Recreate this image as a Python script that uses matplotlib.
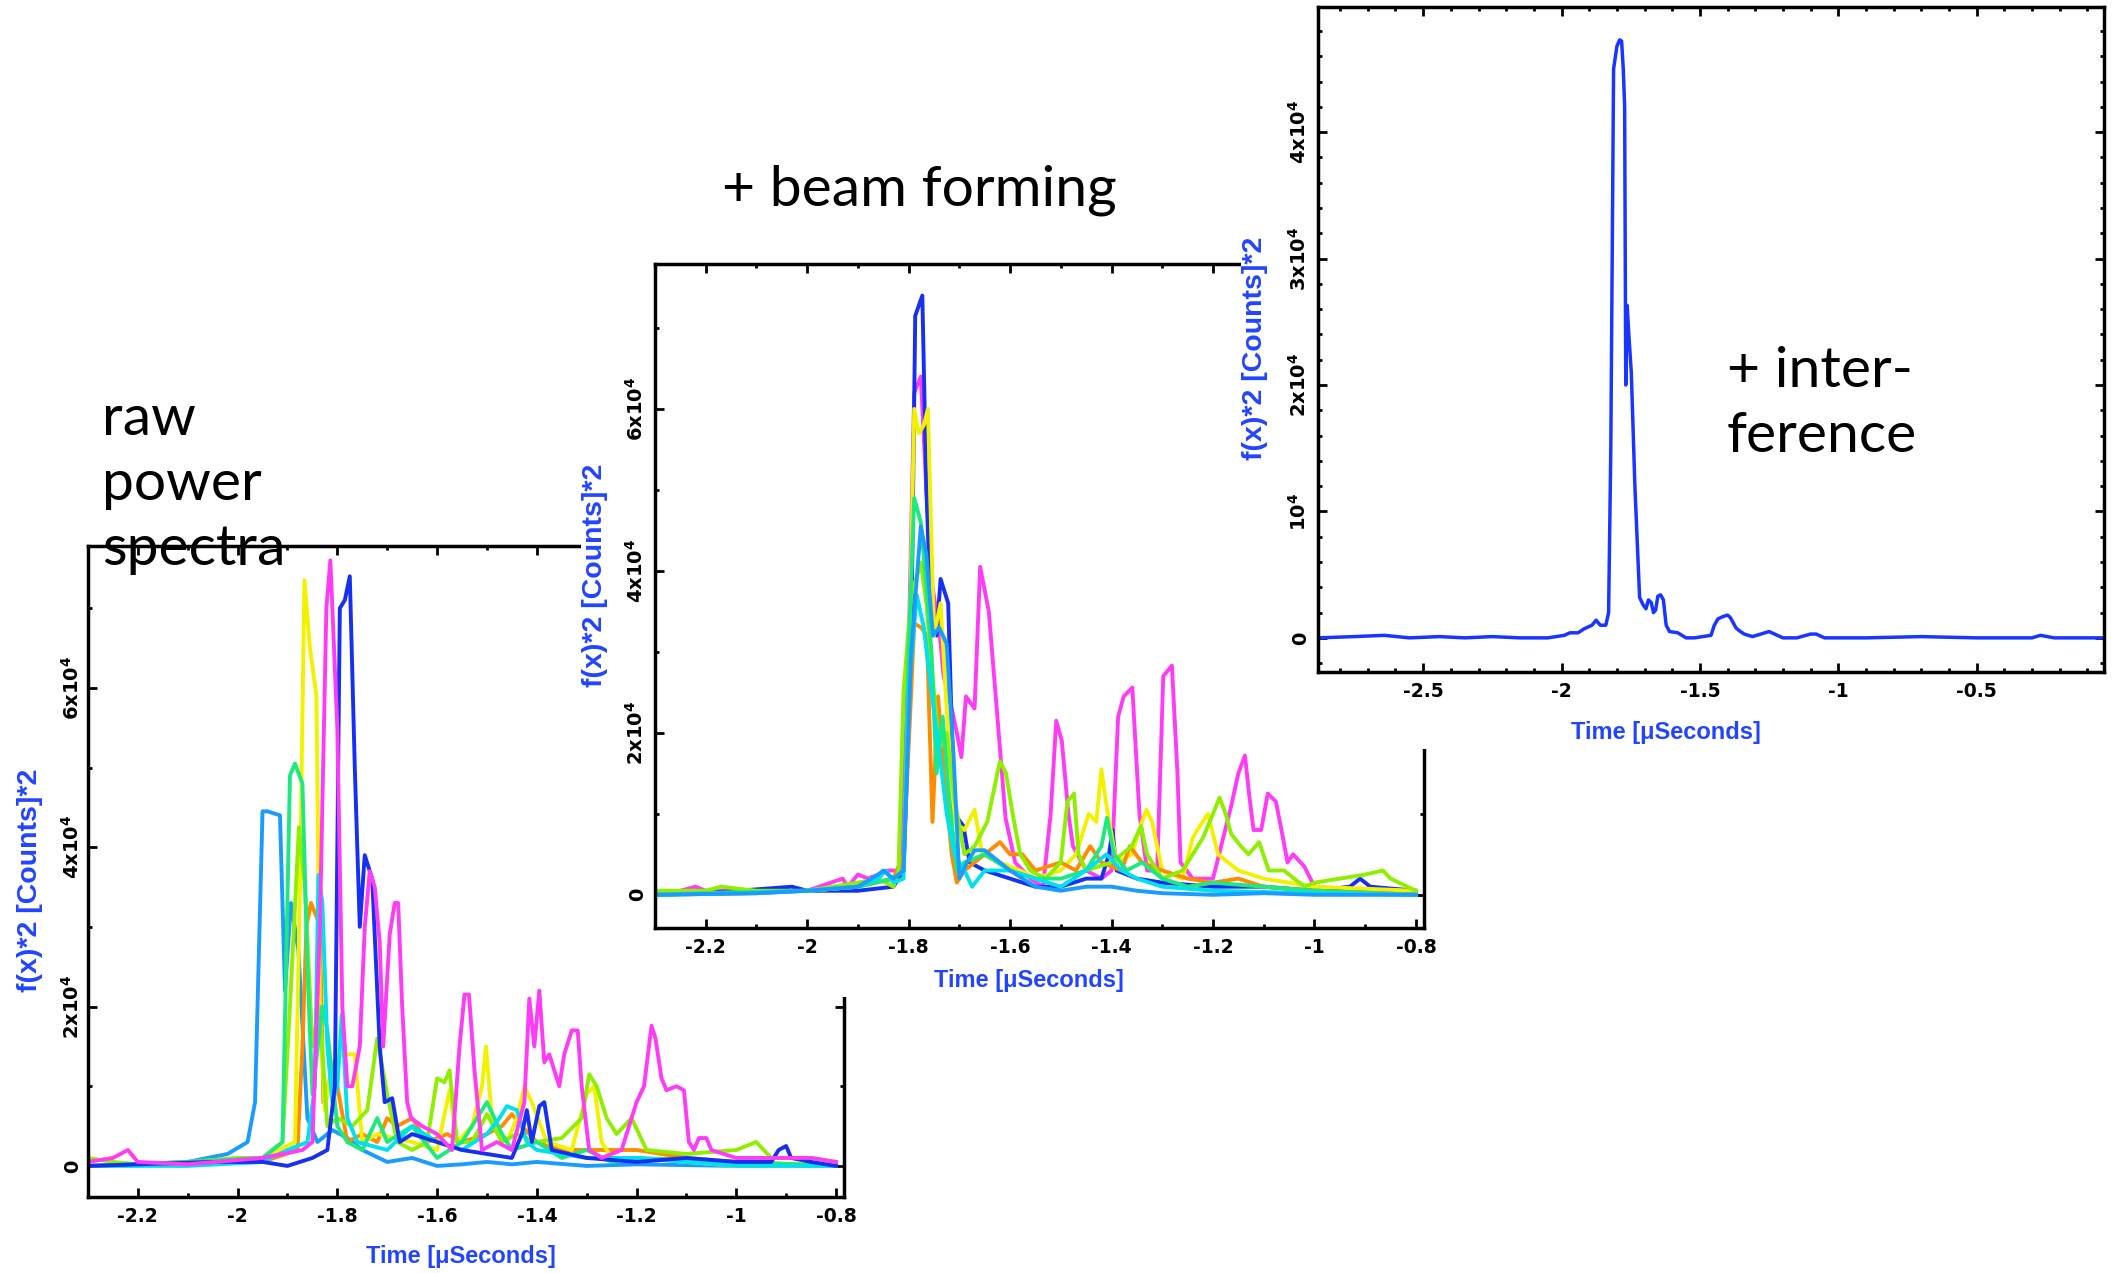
import numpy as np
import matplotlib
matplotlib.use("Agg")
import matplotlib.pyplot as plt
from matplotlib.ticker import FixedLocator, FixedFormatter, MultipleLocator

W, H = 2120, 1273

# ---- raw power spectra (time in microseconds, power in units of 1e4 counts^2) ----
raw_azure_t = [-2.3, -2.2, -2.1, -2.02, -1.98, -1.965, -1.95, -1.94, -1.915, -1.905, -1.893, -1.878, -1.86, -1.84,
               -1.81, -1.78, -1.75, -1.70, -1.65, -1.6, -1.55, -1.5, -1.45, -1.4, -1.3, -1.2, -1.0, -0.8]
raw_azure_y = [0.0, 0.02, 0.05, 0.15, 0.3, 0.8, 4.45, 4.45, 4.4, 2.2, 3.3, 2.7, 0.6, 0.3,
               0.45, 0.35, 0.2, 0.05, 0.1, 0.0, 0.02, 0.05, 0.02, 0.05, 0.0, 0.02, 0.0, 0.0]

raw_green_t = [-2.3, -2.1, -1.95, -1.91, -1.895, -1.885, -1.87, -1.86, -1.85, -1.83, -1.82, -1.80, -1.78, -1.75,
               -1.72, -1.70, -1.65, -1.6, -1.55, -1.5, -1.47, -1.45, -1.4, -1.35, -1.3, -1.25, -1.2, -1.0, -0.8]
raw_green_y = [0.0, 0.05, 0.1, 0.3, 4.9, 5.05, 4.8, 2.5, 0.9, 2.0, 1.7, 0.5, 0.3, 0.2,
               0.6, 0.3, 0.5, 0.1, 0.3, 0.8, 0.4, 0.2, 0.3, 0.1, 0.2, 0.05, 0.1, 0.05, 0.0]

raw_yellow_t = [-2.3, -2.1, -1.95, -1.885, -1.875, -1.866, -1.855, -1.842, -1.835, -1.825, -1.81, -1.79,
                -1.765, -1.75, -1.72, -1.65, -1.6, -1.575, -1.56, -1.53, -1.51, -1.502, -1.49, -1.46,
                -1.44, -1.425, -1.41, -1.38, -1.33, -1.3, -1.285, -1.27, -1.25, -1.2, -1.0, -0.8]
raw_yellow_y = [0.0, 0.02, 0.1, 0.3, 3.5, 7.35, 6.5, 5.9, 2.0, 0.7, 1.3, 1.4,
                1.4, 0.3, 0.4, 0.3, 0.2, 0.95, 0.3, 0.5, 1.0, 1.5, 0.6, 0.3,
                0.6, 1.0, 0.8, 0.3, 0.2, 0.9, 1.0, 0.3, 0.1, 0.1, 0.0, 0.0]

raw_lime_t = [-2.3, -2.25, -2.2, -2.1, -2.0, -1.95, -1.91, -1.895, -1.877, -1.865, -1.85, -1.836, -1.82, -1.80,
              -1.77, -1.74, -1.72, -1.70, -1.68, -1.65, -1.62, -1.60, -1.585, -1.575, -1.56, -1.53, -1.50,
              -1.47, -1.44, -1.40, -1.35, -1.31, -1.295, -1.28, -1.26, -1.24, -1.21, -1.18, -1.1, -1.0,
              -0.96, -0.93, -0.85, -0.8]
raw_lime_y = [0.1, 0.05, 0.02, 0.05, 0.1, 0.1, 0.3, 2.0, 4.25, 3.5, 1.5, 2.0, 0.5, 0.6,
              0.5, 0.7, 1.6, 0.9, 0.3, 0.2, 0.3, 1.1, 1.05, 1.2, 0.3, 0.3, 0.65,
              0.3, 0.4, 0.3, 0.35, 0.6, 1.15, 1.0, 0.6, 0.4, 0.6, 0.2, 0.15, 0.2,
              0.3, 0.1, 0.1, 0.05]

raw_orange_t = [-2.3, -2.1, -1.95, -1.88, -1.87, -1.862, -1.853, -1.84, -1.835, -1.828, -1.81, -1.80, -1.78,
                -1.75, -1.72, -1.70, -1.68, -1.65, -1.62, -1.58, -1.55, -1.5, -1.47, -1.45, -1.43, -1.4,
                -1.35, -1.3, -1.2, -1.1, -1.0, -0.8]
raw_orange_y = [0.0, 0.02, 0.05, 0.2, 1.5, 3.0, 3.3, 3.1, 3.0, 0.8, 1.2, 1.0, 0.3,
                0.4, 0.3, 0.6, 0.5, 0.6, 0.3, 0.4, 0.3, 0.4, 0.5, 0.65, 0.5, 0.3,
                0.2, 0.2, 0.2, 0.1, 0.05, 0.0]

raw_cyan_t = [-2.3, -2.1, -1.95, -1.90, -1.86, -1.845, -1.838, -1.83, -1.82, -1.81, -1.80, -1.791, -1.78, -1.76,
              -1.70, -1.65, -1.60, -1.55, -1.50, -1.475, -1.46, -1.44, -1.42, -1.40, -1.3, -1.2, -1.0, -0.8]
raw_cyan_y = [0.0, 0.0, 0.05, 0.2, 0.3, 1.0, 3.65, 3.3, 1.5, 0.8, 1.0, 1.9, 0.6, 0.3,
              0.2, 0.5, 0.3, 0.2, 0.4, 0.6, 0.75, 0.7, 0.3, 0.2, 0.1, 0.1, 0.0, 0.0]

raw_blue_t = [-2.3, -2.2, -2.05, -1.95, -1.90, -1.85, -1.82, -1.805, -1.795, -1.785, -1.775, -1.765, -1.755,
              -1.745, -1.73, -1.715, -1.705, -1.69, -1.675, -1.65, -1.6, -1.55, -1.5, -1.45, -1.43, -1.42,
              -1.41, -1.395, -1.385, -1.37, -1.3, -1.2, -1.1, -1.0, -0.93, -0.915, -0.9, -0.89, -0.85, -0.8]
raw_blue_y = [0.0, 0.02, 0.05, 0.05, 0.0, 0.1, 0.2, 1.0, 7.0, 7.1, 7.4, 5.0, 3.0,
              3.9, 3.6, 1.5, 0.8, 0.85, 0.3, 0.4, 0.3, 0.2, 0.15, 0.1, 0.4, 0.7,
              0.3, 0.75, 0.8, 0.2, 0.1, 0.05, 0.1, 0.05, 0.05, 0.2, 0.25, 0.1, 0.05, 0.0]

raw_magenta_t = [-2.3, -2.25, -2.22, -2.2, -2.1, -1.95, -1.87, -1.85, -1.835, -1.822, -1.814, -1.80, -1.79,
                 -1.78, -1.77, -1.755, -1.745, -1.735, -1.725, -1.715, -1.708, -1.695, -1.685, -1.678, -1.67,
                 -1.66, -1.652, -1.63, -1.60, -1.57, -1.555, -1.545, -1.536, -1.525, -1.51, -1.48, -1.45,
                 -1.425, -1.415, -1.405, -1.395, -1.385, -1.375, -1.365, -1.355, -1.345, -1.33, -1.318,
                 -1.31, -1.295, -1.27, -1.23, -1.20, -1.185, -1.17, -1.162, -1.15, -1.14, -1.12, -1.105,
                 -1.095, -1.085, -1.075, -1.06, -1.05, -1.0, -0.9, -0.85, -0.8]
raw_magenta_y = [0.05, 0.1, 0.2, 0.05, 0.02, 0.1, 0.2, 0.3, 3.0, 7.0, 7.6, 5.5, 2.0,
                 1.0, 1.0, 1.5, 3.0, 3.7, 3.5, 2.8, 1.5, 2.9, 3.3, 3.3, 2.0,
                 0.8, 0.6, 0.5, 0.4, 0.2, 1.5, 2.15, 2.15, 1.2, 0.2, 0.3, 0.2,
                 0.8, 2.1, 1.5, 2.2, 1.3, 1.4, 1.2, 1.0, 1.4, 1.7, 1.7,
                 1.0, 0.2, 0.1, 0.2, 0.8, 1.0, 1.76, 1.6, 1.1, 0.95, 1.0, 0.95,
                 0.3, 0.2, 0.35, 0.35, 0.2, 0.1, 0.1, 0.1, 0.05]

# ---- after beam forming ----
beam_blue_t = [-2.3, -2.2, -2.03, -2.0, -1.9, -1.83, -1.81, -1.795, -1.787, -1.773, -1.765, -1.755, -1.745,
               -1.737, -1.722, -1.71, -1.692, -1.68, -1.65, -1.6, -1.55, -1.5, -1.45, -1.42, -1.405, -1.398,
               -1.39, -1.35, -1.3, -1.2, -1.1, -1.0, -0.93, -0.91, -0.89, -0.8]
beam_blue_y = [0.0, 0.02, 0.1, 0.05, 0.05, 0.1, 0.3, 3.0, 7.15, 7.4, 5.0, 3.3, 3.2,
               3.9, 3.6, 1.0, 0.85, 0.4, 0.3, 0.2, 0.1, 0.1, 0.2, 0.2, 0.5, 0.8,
               0.3, 0.2, 0.15, 0.1, 0.1, 0.05, 0.1, 0.2, 0.1, 0.05]

beam_magenta_t = [-2.3, -2.25, -2.22, -2.2, -2.1, -2.0, -1.93, -1.92, -1.9, -1.88, -1.84, -1.815, -1.80,
                  -1.789, -1.776, -1.765, -1.753, -1.74, -1.731, -1.715, -1.705, -1.696, -1.687, -1.67,
                  -1.659, -1.642, -1.625, -1.609, -1.59, -1.56, -1.535, -1.52, -1.509, -1.498, -1.485,
                  -1.476, -1.45, -1.42, -1.40, -1.387, -1.376, -1.359, -1.345, -1.33, -1.31, -1.298,
                  -1.281, -1.27, -1.264, -1.24, -1.2, -1.18, -1.164, -1.15, -1.137, -1.128, -1.12,
                  -1.105, -1.092, -1.076, -1.065, -1.053, -1.042, -1.02, -1.0, -0.9, -0.8]
beam_magenta_y = [0.0, 0.05, 0.1, 0.05, 0.05, 0.05, 0.2, 0.1, 0.25, 0.2, 0.3, 0.3, 3.0,
                  6.2, 6.4, 5.0, 3.8, 3.3, 2.7, 2.3, 2.0, 1.7, 2.45, 2.3,
                  4.05, 3.5, 2.2, 0.95, 0.4, 0.2, 0.1, 1.0, 2.15, 1.9, 1.0,
                  0.6, 0.3, 0.2, 0.3, 2.2, 2.45, 2.56, 1.0, 0.3, 0.3, 2.7,
                  2.83, 1.5, 0.4, 0.2, 0.2, 0.7, 1.1, 1.5, 1.72, 1.2, 0.8,
                  0.8, 1.25, 1.15, 0.8, 0.4, 0.5, 0.35, 0.1, 0.05, 0.05]

beam_yellow_t = [-2.3, -2.2, -2.0, -1.9, -1.83, -1.81, -1.80, -1.789, -1.78, -1.77, -1.762, -1.75, -1.737,
                 -1.726, -1.709, -1.69, -1.67, -1.655, -1.62, -1.58, -1.55, -1.5, -1.47, -1.445, -1.43,
                 -1.42, -1.41, -1.39, -1.36, -1.34, -1.331, -1.32, -1.30, -1.26, -1.24, -1.231, -1.21,
                 -1.19, -1.15, -1.1, -1.0, -0.8]
beam_yellow_y = [0.0, 0.02, 0.05, 0.1, 0.2, 0.3, 2.5, 6.0, 5.7, 5.8, 6.0, 3.2, 3.6,
                 2.4, 0.9, 0.8, 1.05, 0.5, 0.4, 0.3, 0.2, 0.3, 0.5, 1.0, 0.9,
                 1.55, 1.1, 0.4, 0.5, 0.9, 1.05, 0.9, 0.3, 0.2, 0.7, 0.8, 1.0,
                 0.5, 0.3, 0.2, 0.1, 0.05]

beam_green_t = [-2.3, -2.2, -2.0, -1.9, -1.83, -1.81, -1.80, -1.789, -1.776, -1.765, -1.755, -1.745, -1.733,
                -1.72, -1.705, -1.69, -1.65, -1.6, -1.55, -1.5, -1.45, -1.42, -1.409, -1.395, -1.37, -1.34,
                -1.3, -1.25, -1.2, -1.1, -1.0, -0.8]
beam_green_y = [0.0, 0.02, 0.05, 0.1, 0.2, 0.3, 3.0, 4.9, 4.6, 3.8, 3.0, 1.5, 2.2,
                1.2, 0.3, 0.4, 0.5, 0.3, 0.2, 0.2, 0.3, 0.6, 0.95, 0.5, 0.3, 0.4,
                0.2, 0.1, 0.15, 0.1, 0.05, 0.0]

beam_lime_t = [-2.3, -2.2, -2.17, -2.1, -2.0, -1.9, -1.86, -1.83, -1.82, -1.81, -1.795, -1.776, -1.765,
               -1.75, -1.74, -1.725, -1.71, -1.69, -1.67, -1.645, -1.62, -1.608, -1.595, -1.58, -1.56,
               -1.53, -1.50, -1.487, -1.474, -1.465, -1.45, -1.40, -1.36, -1.342, -1.33, -1.30, -1.26,
               -1.22, -1.20, -1.187, -1.175, -1.164, -1.145, -1.13, -1.109, -1.09, -1.06, -1.02, -1.0,
               -0.95, -0.9, -0.865, -0.85, -0.8]
beam_lime_y = [0.05, 0.05, 0.1, 0.05, 0.05, 0.15, 0.2, 0.1, 0.3, 2.5, 3.7, 4.1, 3.6,
               2.5, 1.8, 2.0, 1.2, 0.5, 0.6, 0.9, 1.65, 1.5, 1.0, 0.5, 0.3,
               0.2, 0.4, 1.15, 1.25, 0.5, 0.3, 0.4, 0.6, 0.85, 0.5, 0.2, 0.3,
               0.7, 1.0, 1.2, 1.0, 0.75, 0.6, 0.5, 0.65, 0.3, 0.3, 0.1, 0.15,
               0.2, 0.25, 0.3, 0.2, 0.05]

beam_orange_t = [-2.3, -2.1, -2.0, -1.9, -1.83, -1.81, -1.795, -1.789, -1.775, -1.764, -1.753, -1.742, -1.73,
                 -1.715, -1.705, -1.69, -1.65, -1.62, -1.6, -1.576, -1.55, -1.5, -1.47, -1.442, -1.42,
                 -1.38, -1.364, -1.34, -1.3, -1.25, -1.2, -1.15, -1.1, -1.0, -0.8]
beam_orange_y = [0.0, 0.02, 0.05, 0.1, 0.2, 0.5, 2.5, 3.35, 3.3, 3.2, 0.9, 2.45, 1.5,
                 0.5, 0.15, 0.3, 0.5, 0.65, 0.5, 0.5, 0.3, 0.4, 0.3, 0.6, 0.4,
                 0.3, 0.6, 0.4, 0.3, 0.2, 0.15, 0.2, 0.1, 0.05, 0.0]

beam_cyan_t = [-2.3, -2.1, -2.0, -1.9, -1.86, -1.845, -1.83, -1.81, -1.80, -1.784, -1.77, -1.755, -1.74,
               -1.725, -1.71, -1.69, -1.675, -1.65, -1.6, -1.55, -1.5, -1.45, -1.41, -1.38, -1.35, -1.3,
               -1.2, -1.0, -0.8]
beam_cyan_y = [0.0, 0.02, 0.05, 0.1, 0.2, 0.3, 0.15, 0.2, 2.5, 3.7, 3.3, 2.5, 1.8,
               1.0, 0.5, 0.3, 0.1, 0.3, 0.3, 0.2, 0.1, 0.3, 0.5, 0.3, 0.2, 0.1,
               0.05, 0.02, 0.0]

beam_azure_t = [-2.3, -2.1, -2.0, -1.9, -1.86, -1.85, -1.83, -1.81, -1.795, -1.776, -1.765, -1.752, -1.74,
                -1.725, -1.712, -1.70, -1.685, -1.67, -1.65, -1.62, -1.6, -1.55, -1.5, -1.45, -1.4, -1.35,
                -1.3, -1.2, -1.1, -1.0, -0.8]
beam_azure_y = [0.0, 0.02, 0.05, 0.1, 0.25, 0.3, 0.2, 0.3, 3.0, 4.55, 4.2, 3.2, 3.3,
                3.1, 1.8, 0.2, 0.4, 0.55, 0.55, 0.4, 0.3, 0.1, 0.05, 0.1, 0.1, 0.05,
                0.02, 0.0, 0.02, 0.0, 0.0]

# ---- after interference ----
intf_t = [-2.88, -2.75, -2.64, -2.55, -2.44, -2.35, -2.25, -2.15, -2.05, -1.99, -1.97, -1.94, -1.92, -1.89,
          -1.875, -1.86, -1.84, -1.83, -1.822, -1.812, -1.80, -1.79, -1.783, -1.777, -1.772, -1.768, -1.763,
          -1.757, -1.748, -1.735, -1.718, -1.705, -1.695, -1.686, -1.676, -1.668, -1.66, -1.652, -1.642,
          -1.632, -1.622, -1.61, -1.58, -1.55, -1.52, -1.46, -1.448, -1.435, -1.415, -1.40, -1.39, -1.38,
          -1.37, -1.36, -1.34, -1.31, -1.28, -1.25, -1.23, -1.2, -1.15, -1.1, -1.08, -1.05, -0.9, -0.7,
          -0.5, -0.3, -0.27, -0.22, -0.04]
intf_y = [0.0, 0.01, 0.02, 0.0, 0.01, 0.0, 0.01, 0.0, 0.0, 0.02, 0.04, 0.04, 0.07, 0.1,
          0.14, 0.1, 0.1, 0.2, 1.5, 4.5, 4.68, 4.73, 4.72, 4.5, 4.2, 2.0, 2.63,
          2.4, 2.1, 1.2, 0.32, 0.26, 0.23, 0.3, 0.28, 0.2, 0.22, 0.33, 0.34,
          0.3, 0.1, 0.05, 0.04, 0.0, 0.0, 0.02, 0.1, 0.15, 0.17, 0.18, 0.16, 0.12,
          0.08, 0.06, 0.03, 0.01, 0.03, 0.05, 0.03, 0.0, 0.0, 0.03, 0.03, 0.0, 0.0, 0.01,
          0.0, 0.0, 0.02, 0.0, 0.0]

c_blue = '#1530f0'
c_magenta = '#ff3cf5'
c_yellow = '#f2f200'
c_lime = '#90ee00'
c_green = '#1ee880'
c_cyan = '#00e0ee'
c_azure = '#1a9cff'
c_orange = '#ff8c00'
label_blue = '#2244ff'

raw_traces = [(raw_azure_t, raw_azure_y, c_azure), (raw_orange_t, raw_orange_y, c_orange),
              (raw_yellow_t, raw_yellow_y, c_yellow), (raw_lime_t, raw_lime_y, c_lime),
              (raw_green_t, raw_green_y, c_green), (raw_cyan_t, raw_cyan_y, c_cyan),
              (raw_blue_t, raw_blue_y, c_blue), (raw_magenta_t, raw_magenta_y, c_magenta)]
beam_traces = [(beam_magenta_t, beam_magenta_y, c_magenta), (beam_blue_t, beam_blue_y, c_blue),
               (beam_yellow_t, beam_yellow_y, c_yellow), (beam_orange_t, beam_orange_y, c_orange),
               (beam_lime_t, beam_lime_y, c_lime), (beam_green_t, beam_green_y, c_green),
               (beam_cyan_t, beam_cyan_y, c_cyan), (beam_azure_t, beam_azure_y, c_azure)]

xt_short = [-2.2, -2.0, -1.8, -1.6, -1.4, -1.2, -1.0, -0.8]
xt_short_lbl = ['-2.2', '-2', '-1.8', '-1.6', '-1.4', '-1.2', '-1', '-0.8']
yt_short = [0, 2e4, 4e4, 6e4]
yt_short_lbl = ['0', r'$\mathbf{2x10^{4}}$', r'$\mathbf{4x10^{4}}$', r'$\mathbf{6x10^{4}}$']
xt_long = [-2.5, -2.0, -1.5, -1.0, -0.5]
xt_long_lbl = ['-2.5', '-2', '-1.5', '-1', '-0.5']
yt_long = [0, 1e4, 2e4, 3e4, 4e4]
yt_long_lbl = ['0', r'$\mathbf{10^{4}}$', r'$\mathbf{2x10^{4}}$', r'$\mathbf{3x10^{4}}$', r'$\mathbf{4x10^{4}}$']

plt.rcParams['font.family'] = 'DejaVu Sans'
plt.rcParams['font.weight'] = 'bold'
plt.rcParams['mathtext.fontset'] = 'dejavusans'
label_font = ['Liberation Sans', 'DejaVu Sans']

fig = plt.figure(figsize=(W / 100, H / 100), dpi=100)
fig.patch.set_facecolor('white')


def box(x0, y0, x1, y1):
    # pixel box (top-left origin) -> figure fraction rect
    return [x0 / W, 1 - y1 / H, (x1 - x0) / W, (y1 - y0) / H]


def paper(rect, z):
    p = fig.add_axes(box(*rect), zorder=z)
    p.set_xticks([])
    p.set_yticks([])
    for s in p.spines.values():
        s.set_visible(False)
    p.set_facecolor('white')


def idl_axes(rect, z, xlim, ylim, xt, xtl, xminor, yt, ytl, yminor, ypad, xlab_px, ylab_px):
    ax = fig.add_axes(box(*rect), zorder=z)
    ax.set_xlim(*xlim)
    ax.set_ylim(*ylim)
    for s in ax.spines.values():
        s.set_linewidth(2.5)
    ax.xaxis.set_major_locator(FixedLocator(xt))
    ax.xaxis.set_major_formatter(FixedFormatter(xtl))
    ax.xaxis.set_minor_locator(MultipleLocator(xminor))
    ax.yaxis.set_major_locator(FixedLocator(yt))
    ax.yaxis.set_major_formatter(FixedFormatter(ytl))
    ax.yaxis.set_minor_locator(MultipleLocator(yminor))
    ax.tick_params(which='both', direction='in', top=True, right=True, width=2)
    ax.tick_params(which='major', length=6.5)
    ax.tick_params(which='minor', length=3)
    ax.tick_params(axis='x', pad=7, labelsize=13.5)
    ax.tick_params(axis='y', labelrotation=90, pad=ypad, labelsize=14)
    for lbl in ax.get_yticklabels():
        lbl.set_va('center')
    ax.set_xlabel('Time [μSeconds]', color=label_blue, fontsize=17, fontweight='bold',
                  family=label_font, va='center', ha='center')
    ax.xaxis.set_label_coords(xlab_px[0] / W, 1 - xlab_px[1] / H, transform=fig.transFigure)
    ax.set_ylabel('f(x)*2 [Counts]*2', color=label_blue, fontsize=20.5, fontweight='bold',
                  family=label_font, va='center', ha='center')
    ax.yaxis.set_label_coords(ylab_px[0] / W, 1 - ylab_px[1] / H, transform=fig.transFigure)
    return ax


ax_raw = idl_axes((88, 546, 844, 1197), 1, (-2.3, -0.784), (-3900, 77800),
                  xt_short, xt_short_lbl, 0.1, yt_short, yt_short_lbl, 1e4, 4,
                  (461, 1257), (30, 880))
for t, y, c in raw_traces:
    ax_raw.plot(t, np.array(y) * 1e4, color=c, lw=2.8)

paper((581, 230, 1460, 997), 2)
ax_beam = idl_axes((655, 264, 1424, 928), 3, (-2.3, -0.784), (-4100, 77900),
                   xt_short, xt_short_lbl, 0.1, yt_short, yt_short_lbl, 1e4, 6,
                   (1029, 980), (595, 575))
for t, y, c in beam_traces:
    ax_beam.plot(t, np.array(y) * 1e4, color=c, lw=2.8)

paper((1241, 0, 2120, 749), 4)
ax_int = idl_axes((1318, 7, 2104, 672), 5, (-2.88, -0.04), (-2700, 49900),
                  xt_long, xt_long_lbl, 0.1, yt_long, yt_long_lbl, 2e3, 6,
                  (1666, 733), (1255, 348))
ax_int.plot(intf_t, np.array(intf_y) * 1e4, color='#1a35ff', lw=2.5)

# stage captions
cap = dict(fontsize=41, fontweight='normal', family=['Lato', 'DejaVu Sans'], color='black',
           va='baseline', ha='left', zorder=10)
fig.text(102 / W, 1 - 435 / H, 'raw', **cap)
fig.text(102 / W, 1 - 500 / H, 'power', **cap)
fig.text(102 / W, 1 - 565 / H, 'spectra', **cap)
fig.text(722 / W, 1 - 205 / H, '+ beam forming', **cap)
fig.text(1727 / W, 1 - 387 / H, '+ inter-', **cap)
fig.text(1727 / W, 1 - 452 / H, 'ference', **cap)

fig.savefig('out.png', dpi=100, facecolor='white')
